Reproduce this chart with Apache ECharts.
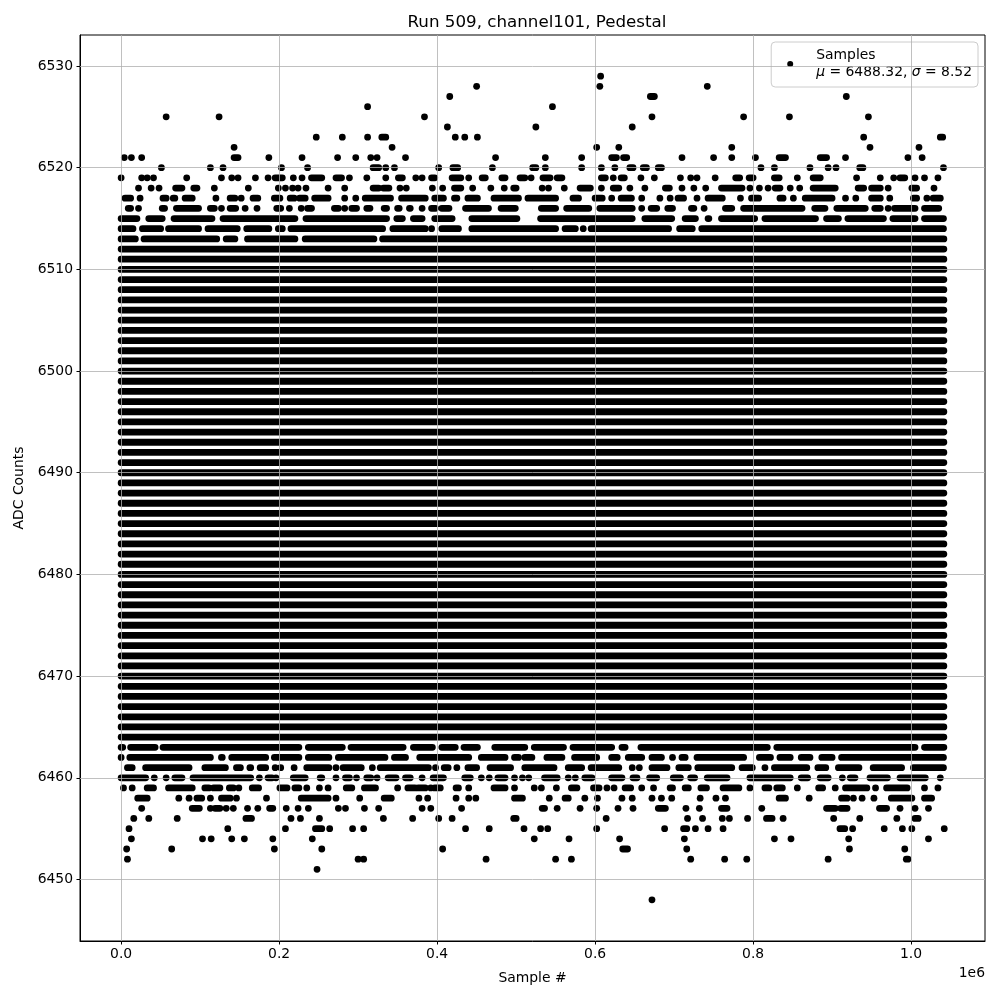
<!DOCTYPE html>
<html>
<head>
<meta charset="utf-8">
<title>Run 509, channel101, Pedestal</title>
<script src="https://cdn.jsdelivr.net/npm/echarts@6/dist/echarts.min.js"></script>
<style>
    html, body { margin: 0; padding: 0; background: #fff; }
    #chart { width: 1000px; height: 1000px; }
</style>
</head>
<body>
<div id="chart"></div>
<script>
    // tick positions
    const xTicks = [0, 200000, 400000, 600000, 800000, 1000000];
    const yTicks = [6450, 6460, 6470, 6480, 6490, 6500, 6510, 6520, 6530];

    // sample range in thousands of samples
    const firstSampleK = 0;
    const lastSampleK = 1041.5;

    // ADC levels hit all along the run
    const fullLevels = [6464, 6465, 6466, 6467, 6468, 6469, 6470, 6471, 6472, 6473, 6474, 6475,
        6476, 6477, 6478, 6479, 6480, 6481, 6482, 6483, 6484, 6485, 6486, 6487, 6488, 6489, 6490,
        6491, 6492, 6493, 6494, 6495, 6496, 6497, 6498, 6499, 6500, 6501, 6502, 6503, 6504, 6505,
        6506, 6507, 6508, 6509, 6510, 6511, 6512];

    // tails: [adc, positions in k samples], a pair is a run of neighbouring samples
    const upperTail = [
        [6529, [607]],
        [6528, [450, 606, 742]],
        [6527, [416, [670, 675], 918]],
        [6526, [312, 546]],
        [6525, [57, 124, 384, 672, 788, 846, 946]],
        [6524, [413, 525, 647]],
        [6523, [247, 280, 312, [330, 335], 423, 435, 451, 940, [1037, 1040]]],
        [6522, [143, 343, 602, 630, 773, 948, 1010]],
        [6521, [4, 13, 26, [143, 148], 187, 229, 274, 297, 316, 324, 360, 474, 537, 583, [621, 627],
            [636, 640], 710, 750, 773, 803, [833, 841], [885, 893], 917, 996, 1014]],
        [6520, [51, 113, 129, 203, 236, [319, 326], 335, 346, 402, [420, 426], 470, [521, 525], 537,
            583, 608, 625, [644, 648], [661, 665], [680, 684], 810, 827, 872, 895, 905, [935, 939], 1041]],
        [6519, [0, 26, 33, 41, 83, 127, 140, 148, 170, 186, [195, 204], 218, 229, [241, 254], [272, 279],
            289, 311, 335, [351, 356], 373, 381, [393, 397], [419, 430], 440, [457, 461], [482, 486],
            [505, 511], 519, [534, 543], [552, 558], [608, 613], 623, [633, 637], 658, 675, 708, 721, 729,
            752, [778, 783], [795, 800], [827, 833], 856, [876, 885], 931, 961, 978, [986, 992], 1005,
            1017, 1034]],
        [6518, [22, 38, 48, [69, 77], [92, 96], 118, 161, 199, 208, 217, 224, 234, 262, 283, [319, 326],
            [332, 339], 353, 361, 394, 407, [422, 430], 445, 468, 485, [497, 500], 533, 541, 561,
            [581, 594], 608, [623, 630], 644, 663, [689, 694], 710, 725, 740, [760, 786], 796, 808, 819,
            [828, 834], 847, 859, [876, 904], [933, 940], [950, 961], 971, [1001, 1007], 1029]],
        [6517, [[5, 12], 24, [53, 57], [66, 68], [81, 90], 120, [138, 144], 152, [167, 173], [194, 201],
            [214, 219], [226, 233], [245, 262], 283, 297, [309, 341], [355, 385], [397, 408], [422, 425],
            [439, 451], [472, 503], [515, 550], [572, 579], [600, 609], 621, [633, 646], 659, 682, 695,
            [705, 712], 729, [743, 761], 784, [798, 807], [834, 838], 851, [866, 900], 917, 930,
            [950, 961], 973, [1003, 1007], 1020, [1028, 1037]]],
        [6516, [[9, 12], 22, [52, 55], [70, 98], [113, 118], 127, [138, 145], 157, 172, [197, 202], 213,
            228, [236, 241], [270, 275], 283, [292, 298], [311, 315], [333, 336], [350, 352], [365, 366],
            381, [393, 398], [406, 415], [436, 465], [481, 499], [532, 550], [564, 592], [606, 647], 659,
            [671, 678], [692, 698], [722, 725], 738, [765, 773], [788, 862], [878, 891], [906, 942],
            [954, 961], 971, [979, 1005], [1017, 1035]]],
        [6515, [[0, 20], [35, 52], [67, 115], [129, 220], [234, 336], [349, 356], [370, 381], [397, 419],
            [444, 501], [531, 647], [663, 697], [714, 727], [743, 744], [760, 802], [815, 879], [893, 908],
            [920, 965], [977, 1005], [1017, 1041]]],
        [6514, [[0, 15], [27, 50], [60, 98], [110, 147], [159, 187], [199, 204], [215, 331], [344, 385],
            393, [406, 427], [444, 550], [562, 575], 585, [595, 693], [707, 723], [735, 1041]]],
        [6513, [[0, 18], [29, 121], [133, 144], [160, 220], [233, 320], [331, 1041.5]]]
    ];

    const lowerTail = [
        [6463, [[0, 2], [12, 43], [53, 225], [237, 280], [291, 357], [370, 394], [406, 423], [434, 451],
            [473, 511], [523, 560], [572, 621], [634, 638], [658, 818], [830, 1005], [1017, 1041.5]]],
        [6462, [0, [11, 113], [127, 128], [140, 183], [194, 225], [237, 263], [275, 334], [346, 360],
            [378, 440], [456, 486], [498, 503], [511, 520], [539, 558], [574, 602], [621, 628], [642, 659],
            [672, 684], 698, [710, 714], [729, 788], [808, 822], [834, 847], [861, 872], [887, 900],
            [912, 1041]]],
        [6461, [[8, 14], [31, 86], [106, 132], [146, 151], [163, 164], [176, 183], 195, 202, 219,
            [235, 263], 272, [281, 304], 318, [328, 389], 398, [409, 414], 425, [439, 450], [467, 493],
            [511, 548], [566, 583], [595, 630], 647, 656, [672, 691], [706, 718], [730, 773], [786, 799],
            815, [827, 868], [882, 892], [908, 934], [952, 988], [1003, 1041]]],
        [6460, [[0, 31], 42, 57, [68, 77], [91, 164], 175, [186, 191], 196, [218, 233], [252, 254], 272,
            [284, 289], 298, [311, 316], 324, [338, 348], [360, 366], 381, [395, 408], [435, 442], 456,
            466, [477, 486], 498, 508, 516, [536, 552], 566, 575, [587, 596], [621, 634], [648, 653],
            [669, 678], [699, 708], [721, 726], [742, 767], [796, 847], [861, 869], [885, 895], 913,
            [923, 929], [948, 970], [986, 1018], 1037]],
        [6459, [3, 14, [33, 41], [60, 90], [106, 111], [117, 125], [137, 142], 149, [166, 174], [201, 210],
            [220, 225], 235, 251, 262, [285, 292], [308, 322], 350, [363, 372], [376, 385], 392,
            [397, 404], [424, 427], 440, [472, 486], 498, 523, 532, 551, [570, 577], [598, 605], 615, 624,
            [638, 645], 659, 674, [695, 698], [714, 718], [734, 741], [762, 782], 796, [815, 820],
            [830, 837], 856, [883, 888], 904, [917, 944], 955, [969, 995], 1017, 1034]],
        [6458, [[21, 33], 73, 86, [96, 102], 113, [127, 138], 146, 184, [228, 262], 272, 302, [333, 342],
            377, 388, 424, 440, 449, [498, 508], 542, [562, 566], 587, 603, 634, 647, 672, 684, 697, 733,
            753, 765, [833, 841], 871, [912, 919], 927, 938, 953, [975, 1001], [1017, 1026]]],
        [6457, [26, [90, 99], 113, [119, 125], 133, 142, 160, 173, [188, 192], 209, 224, 237, 275, 284,
            308, 326, 381, 392, 431, [533, 536], 552, 581, 602, 629, 648, [680, 689], 715, 732, [760, 767],
            811, [893, 904], [911, 919], [960, 969], 986, 1005, 1022]],
        [6456, [16, 35, 71, [158, 165], 215, 227, 251, 332, 369, 402, 419, [497, 500], 614, 717, 736, 761,
            770, 793, [817, 824], 838, 902, 935, 982, [1005, 1009]]],
        [6455, [10, 135, 208, [246, 254], 264, 293, 307, 436, 466, 510, 531, 540, 602, 688, [712, 716],
            727, 743, 762, [910, 916], 926, 966, 989, 1001, 1042]],
        [6454, [13, 103, 114, 140, 156, 192, 242, 523, 567, 631, 713, 827, 848, 921, 1022]],
        [6453, [7, 64, 194, 254, 407, [635, 641], 716, 922, 992]],
        [6452, [8, 300, 307, 462, 550, 570, 721, 764, 792, 895, [994, 996]]],
        [6451, [248]],
        [6448, [672]]
    ];

    const DOT = 6.8;
    const FONT = 'DejaVu Sans';

    function toRuns(rows) {
        let out = [];
        rows.forEach(([adc, spots]) => {
            spots.forEach(s => {
                let [from, to] = Array.isArray(s) ? s : [s, s];
                out.push([adc, from * 1000, to * 1000]);
            });
        });
        return out;
    }

    let runs = fullLevels.map(v => [v, firstSampleK * 1000, lastSampleK * 1000])
        .concat(toRuns(upperTail), toRuns(lowerTail));

    let myChart = echarts.init(document.getElementById('chart'));
    let options = {
        animation: false,
        backgroundColor: '#fff',
        title: {
            text: 'Run 509, channel101, Pedestal',
            left: 532,
            top: 9,
            textAlign: 'center',
            textStyle: { fontFamily: FONT, fontSize: 16.7, fontWeight: 'normal', color: '#000' }
        },
        legend: {
            data: ['Samples'],
            right: 22,
            top: 42,
            icon: 'circle',
            itemWidth: 6,
            itemHeight: 6,
            padding: [5, 6, 6, 16],
            backgroundColor: 'rgba(255,255,255,0.8)',
            borderColor: '#cccccc',
            borderWidth: 1,
            borderRadius: 4,
            formatter: () => '{a|Samples}\n{i|μ} = 6488.32, {i|σ} = 8.52',
            textStyle: {
                fontFamily: FONT, fontSize: 13.9, color: '#000', lineHeight: 17,
                padding: [0, 0, 0, 18],
                rich: {
                    a: { fontFamily: FONT, fontSize: 13.9, color: '#000', lineHeight: 17 },
                    i: { fontFamily: FONT, fontSize: 13.9, color: '#000', lineHeight: 17, fontStyle: 'italic' }
                }
            }
        },
        grid: {
            left: 80, right: 15, top: 35, bottom: 59,
            show: true, borderColor: '#000', borderWidth: 1, backgroundColor: '#fff'
        },
        xAxis: {
            type: 'value',
            min: -52075,
            max: 1093575,
            name: 'Sample #',
            nameLocation: 'middle',
            nameGap: 30,
            nameTextStyle: { fontFamily: FONT, fontSize: 13.9, color: '#000' },
            axisLine: { show: true, onZero: false, lineStyle: { color: '#000', width: 1 } },
            axisTick: { show: true, length: 3.5, customValues: xTicks, lineStyle: { color: '#000' } },
            axisLabel: {
                customValues: xTicks, margin: 6, color: '#000', fontFamily: FONT, fontSize: 13.9,
                formatter: v => (v / 1e6).toFixed(1)
            },
            splitLine: { show: false }
        },
        yAxis: {
            type: 'value',
            min: 6443.95,
            max: 6533.05,
            name: 'ADC Counts',
            nameLocation: 'middle',
            nameGap: 45,
            nameTextStyle: { fontFamily: FONT, fontSize: 13.9, color: '#000' },
            axisLine: { show: true, onZero: false, lineStyle: { color: '#000', width: 1 } },
            axisTick: { show: true, length: 3.5, customValues: yTicks, lineStyle: { color: '#000' } },
            axisLabel: {
                customValues: yTicks, margin: 7, color: '#000', fontFamily: FONT, fontSize: 13.9,
                formatter: v => String(v)
            },
            splitLine: { show: false }
        },
        graphic: [{
            type: 'text',
            right: 15,
            top: 966,
            style: { text: '1e6', font: '13.9px "DejaVu Sans"', fill: '#000' }
        }],
        series: [
            {
                name: 'Samples',
                type: 'custom',
                z: 2,
                clip: true,
                itemStyle: { color: '#000' },
                dimensions: ['adc', 'from', 'to'],
                encode: { x: [1, 2], y: 0 },
                renderItem: function (params, api) {
                    let a = api.coord([api.value(1), api.value(0)]);
                    let b = api.coord([api.value(2), api.value(0)]);
                    return {
                        type: 'rect',
                        shape: {
                            x: a[0] - DOT / 2, y: a[1] - DOT / 2,
                            width: b[0] - a[0] + DOT, height: DOT, r: DOT / 2
                        },
                        style: { fill: '#000' }
                    };
                },
                data: runs
            },
            {
                // grid lines drawn over the samples, as in the original
                type: 'line',
                z: 3,
                silent: true,
                data: [],
                markLine: {
                    silent: true,
                    symbol: ['none', 'none'],
                    label: { show: false },
                    lineStyle: { color: '#b0b0b0', width: 0.8, type: 'solid' },
                    emphasis: { disabled: true },
                    data: xTicks.map(v => ({ xAxis: v })).concat(yTicks.map(v => ({ yAxis: v })))
                }
            }
        ]
    };
    myChart.setOption(options);
</script>
</body>
</html>
